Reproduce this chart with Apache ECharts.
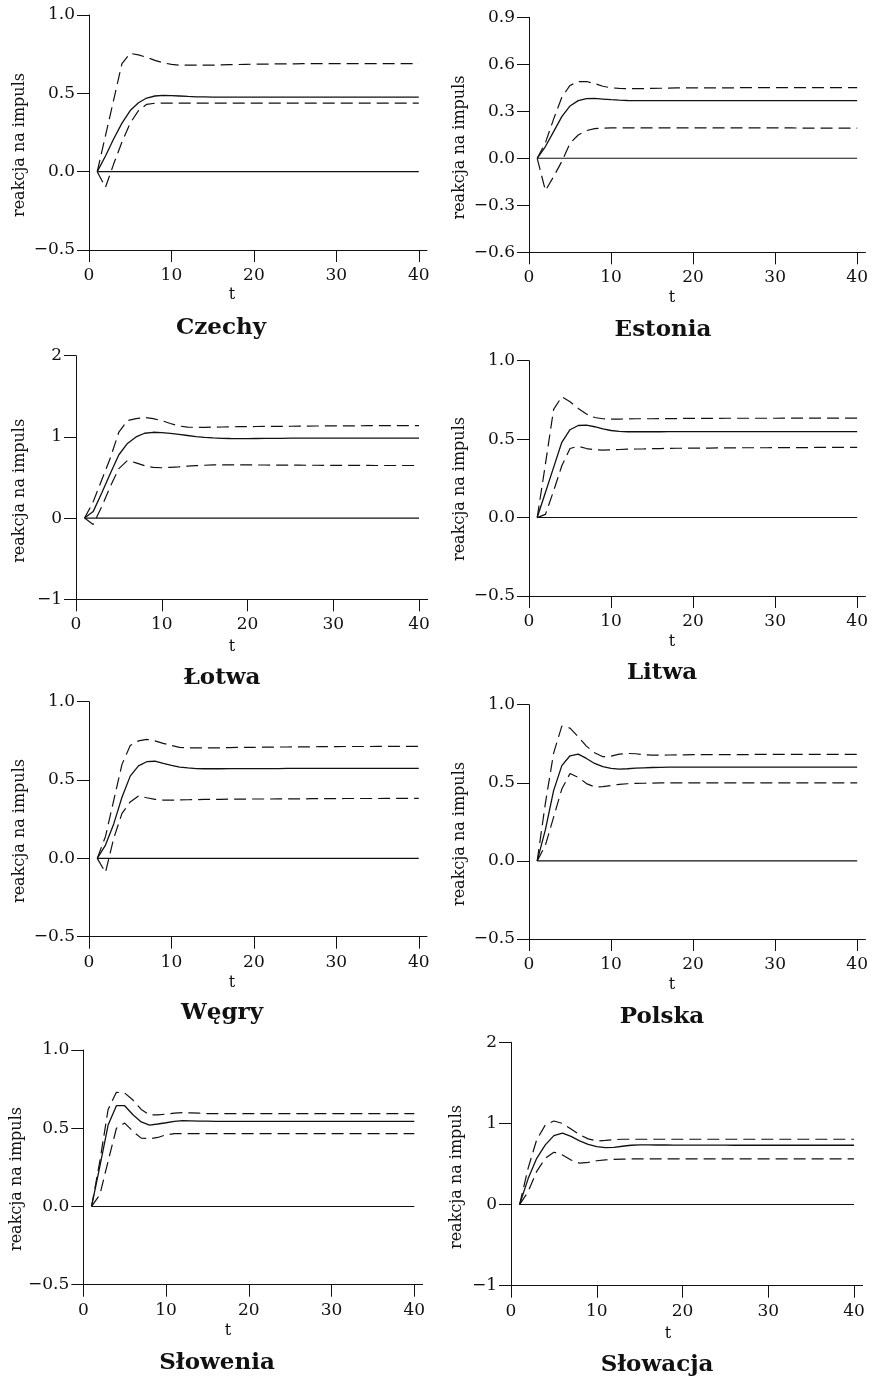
<!DOCTYPE html>
<html>
<head>
<meta charset="utf-8">
<script src="https://cdn.jsdelivr.net/npm/echarts@6/dist/echarts.min.js"></script>
<style>
html,body{margin:0;padding:0;background:#fff;}
#chart{width:871px;height:1385px;}
</style>
</head>
<body>
<div id="chart"></div>
<script>
// ---------- DATA ----------
const t = [1,2,3,4,5,6,7,8,9,10,11,12,13,14,15,16,17,18,19,20,21,22,23,24,25,26,27,28,29,30,31,32,33,34,35,36,37,38,39,40];

const countries = ["Czechy","Estonia","Łotwa","Litwa","Węgry","Polska","Słowenia","Słowacja"];

// Czechy
const czIrf = [0,0.10,0.21,0.31,0.39,0.44,0.47,0.483,0.487,0.486,0.483,0.480,0.478,0.477,0.476,0.476,0.476,0.476,0.476,0.476,0.476,0.476,0.476,0.476,0.476,0.476,0.476,0.476,0.476,0.476,0.476,0.476,0.476,0.476,0.476,0.476,0.476,0.476,0.476,0.476];
const czUp  = [0,0.23,0.46,0.69,0.755,0.745,0.73,0.71,0.695,0.685,0.68,0.68,0.68,0.68,0.68,0.682,0.683,0.684,0.685,0.686,0.687,0.687,0.688,0.688,0.688,0.689,0.689,0.689,0.689,0.689,0.69,0.69,0.69,0.69,0.69,0.69,0.69,0.69,0.69,0.69];
const czLo  = [0,-0.10,0.05,0.19,0.31,0.39,0.43,0.437,0.437,0.437,0.437,0.437,0.437,0.437,0.437,0.437,0.437,0.437,0.437,0.437,0.437,0.437,0.437,0.437,0.437,0.437,0.437,0.437,0.437,0.437,0.437,0.437,0.437,0.437,0.437,0.437,0.437,0.437,0.437,0.437];

// Estonia
const eeIrf = [0,0.075,0.17,0.266,0.334,0.368,0.381,0.382,0.378,0.374,0.371,0.369,0.368,0.368,0.368,0.368,0.368,0.368,0.368,0.368,0.368,0.368,0.368,0.368,0.368,0.368,0.368,0.368,0.368,0.368,0.368,0.368,0.368,0.368,0.368,0.368,0.368,0.368,0.368,0.368];
const eeUp  = [0,0.10,0.25,0.39,0.465,0.49,0.49,0.477,0.46,0.45,0.446,0.445,0.445,0.445,0.446,0.447,0.448,0.449,0.45,0.45,0.45,0.45,0.45,0.45,0.45,0.451,0.451,0.451,0.451,0.451,0.451,0.451,0.451,0.451,0.451,0.451,0.451,0.451,0.451,0.451];
const eeLo  = [0,-0.206,-0.117,-0.02,0.096,0.149,0.177,0.189,0.193,0.194,0.194,0.194,0.194,0.194,0.194,0.194,0.194,0.194,0.194,0.194,0.194,0.194,0.194,0.194,0.194,0.194,0.194,0.194,0.194,0.194,0.194,0.194,0.193,0.193,0.193,0.193,0.193,0.193,0.193,0.193];

// Łotwa
const lvIrf = [0,0.08,0.31,0.55,0.78,0.92,1.00,1.045,1.057,1.053,1.043,1.03,1.017,1.004,0.995,0.988,0.983,0.98,0.979,0.979,0.98,0.981,0.982,0.983,0.984,0.984,0.985,0.985,0.985,0.985,0.985,0.985,0.985,0.985,0.985,0.985,0.985,0.985,0.985,0.985];
const lvUp  = [0,0.2,0.47,0.74,1.06,1.2,1.225,1.24,1.225,1.2,1.165,1.135,1.12,1.118,1.118,1.12,1.122,1.124,1.126,1.127,1.128,1.129,1.13,1.13,1.131,1.132,1.133,1.134,1.135,1.135,1.136,1.137,1.137,1.138,1.138,1.139,1.139,1.14,1.14,1.14];
const lvLo  = [0,-0.08,0.14,0.39,0.61,0.71,0.68,0.645,0.625,0.62,0.625,0.632,0.64,0.646,0.651,0.655,0.656,0.656,0.655,0.655,0.654,0.654,0.653,0.653,0.652,0.652,0.651,0.651,0.65,0.65,0.65,0.649,0.649,0.649,0.648,0.648,0.648,0.648,0.648,0.648];

// Litwa
const ltIrf = [0,0.16,0.32,0.48,0.56,0.587,0.589,0.579,0.566,0.555,0.549,0.547,0.547,0.547,0.547,0.547,0.548,0.548,0.548,0.548,0.548,0.548,0.548,0.548,0.548,0.548,0.548,0.548,0.548,0.548,0.548,0.548,0.548,0.548,0.548,0.548,0.548,0.548,0.548,0.548];
const ltUp  = [0,0.34,0.69,0.77,0.738,0.696,0.66,0.638,0.63,0.628,0.628,0.629,0.63,0.63,0.63,0.631,0.631,0.631,0.632,0.632,0.632,0.632,0.632,0.633,0.633,0.633,0.633,0.633,0.633,0.633,0.634,0.634,0.634,0.634,0.634,0.634,0.634,0.634,0.634,0.634];
const ltLo  = [0,0.02,0.17,0.33,0.44,0.455,0.44,0.432,0.43,0.432,0.434,0.436,0.437,0.438,0.44,0.44,0.441,0.442,0.442,0.443,0.443,0.443,0.444,0.444,0.444,0.445,0.445,0.445,0.445,0.446,0.446,0.446,0.446,0.446,0.447,0.447,0.447,0.447,0.447,0.447];

// Węgry
const huIrf = [0,0.085,0.22,0.39,0.525,0.59,0.617,0.62,0.606,0.594,0.583,0.577,0.573,0.572,0.572,0.572,0.573,0.573,0.573,0.573,0.573,0.573,0.573,0.574,0.574,0.574,0.574,0.574,0.574,0.574,0.574,0.574,0.574,0.574,0.574,0.574,0.574,0.574,0.574,0.574];
const huUp  = [0,0.14,0.37,0.6,0.72,0.75,0.76,0.75,0.734,0.72,0.709,0.705,0.705,0.705,0.705,0.706,0.707,0.708,0.709,0.709,0.71,0.71,0.711,0.711,0.712,0.712,0.712,0.713,0.713,0.713,0.714,0.714,0.714,0.714,0.715,0.715,0.715,0.715,0.715,0.715];
const huLo  = [0,-0.09,0.128,0.287,0.36,0.398,0.387,0.377,0.372,0.372,0.373,0.374,0.375,0.376,0.377,0.377,0.378,0.378,0.378,0.379,0.379,0.379,0.38,0.38,0.38,0.38,0.381,0.381,0.381,0.381,0.382,0.382,0.382,0.382,0.382,0.383,0.383,0.383,0.383,0.383];

// Polska
const plIrf = [0,0.2,0.45,0.61,0.673,0.684,0.656,0.624,0.603,0.592,0.588,0.59,0.594,0.596,0.598,0.599,0.6,0.6,0.6,0.6,0.6,0.6,0.6,0.6,0.6,0.6,0.6,0.6,0.6,0.6,0.6,0.6,0.6,0.6,0.6,0.6,0.6,0.6,0.6,0.6];
const plUp  = [0,0.37,0.69,0.863,0.85,0.795,0.735,0.692,0.667,0.671,0.684,0.688,0.686,0.68,0.677,0.677,0.678,0.679,0.679,0.68,0.68,0.68,0.681,0.681,0.681,0.681,0.681,0.682,0.682,0.682,0.682,0.682,0.682,0.682,0.682,0.682,0.682,0.682,0.682,0.682];
const plLo  = [0,0.1,0.28,0.46,0.56,0.535,0.495,0.474,0.475,0.483,0.49,0.494,0.496,0.497,0.498,0.499,0.5,0.5,0.5,0.5,0.5,0.5,0.5,0.5,0.5,0.5,0.5,0.5,0.5,0.5,0.5,0.5,0.5,0.5,0.5,0.5,0.5,0.5,0.5,0.5];

// Słowenia
const siIrf = [0,0.256,0.52,0.644,0.644,0.586,0.54,0.52,0.527,0.535,0.544,0.548,0.547,0.546,0.545,0.544,0.544,0.544,0.544,0.544,0.544,0.544,0.544,0.544,0.544,0.544,0.544,0.544,0.544,0.544,0.544,0.544,0.544,0.544,0.544,0.544,0.544,0.544,0.544,0.544];
const siUp  = [0,0.29,0.62,0.73,0.725,0.68,0.62,0.586,0.586,0.59,0.597,0.6,0.598,0.596,0.594,0.593,0.593,0.593,0.593,0.593,0.593,0.593,0.593,0.593,0.593,0.593,0.593,0.593,0.593,0.593,0.593,0.593,0.593,0.593,0.593,0.593,0.593,0.593,0.593,0.593];
const siLo  = [0,0.075,0.29,0.5,0.533,0.48,0.437,0.433,0.441,0.458,0.465,0.466,0.466,0.466,0.465,0.465,0.465,0.465,0.465,0.465,0.465,0.465,0.465,0.465,0.465,0.465,0.465,0.465,0.465,0.465,0.465,0.465,0.465,0.465,0.465,0.465,0.465,0.465,0.465,0.465];

// Słowacja
const skIrf = [0,0.32,0.57,0.735,0.85,0.88,0.84,0.785,0.743,0.715,0.702,0.706,0.719,0.731,0.735,0.735,0.734,0.734,0.733,0.733,0.733,0.732,0.732,0.732,0.732,0.731,0.731,0.731,0.731,0.731,0.731,0.731,0.731,0.731,0.731,0.731,0.731,0.731,0.731,0.731];
const skUp  = [0,0.45,0.8,0.98,1.03,1.0,0.93,0.86,0.81,0.784,0.79,0.8,0.805,0.805,0.805,0.805,0.805,0.805,0.805,0.805,0.805,0.805,0.805,0.805,0.805,0.805,0.805,0.805,0.805,0.805,0.805,0.805,0.805,0.805,0.805,0.805,0.805,0.805,0.805,0.805];
const skLo  = [0,0.16,0.41,0.57,0.645,0.612,0.55,0.51,0.52,0.54,0.55,0.558,0.56,0.562,0.563,0.563,0.563,0.563,0.563,0.563,0.563,0.563,0.563,0.563,0.563,0.563,0.563,0.563,0.563,0.563,0.563,0.563,0.563,0.563,0.563,0.563,0.563,0.563,0.563,0.563];

const irfData = [czIrf, eeIrf, lvIrf, ltIrf, huIrf, plIrf, siIrf, skIrf];
const upData  = [czUp, eeUp, lvUp, ltUp, huUp, plUp, siUp, skUp];
const loData  = [czLo, eeLo, lvLo, ltLo, huLo, plLo, siLo, skLo];

// y-axis ranges (min, max, interval, decimals)
const yMin = [-0.5, -0.6, -1, -0.5, -0.5, -0.5, -0.5, -1];
const yMax = [1.0, 0.9, 2, 1.0, 1.0, 1.0, 1.0, 2];
const yStep = [0.5, 0.3, 1, 0.5, 0.5, 0.5, 0.5, 1];
const yDec = [1, 1, 0, 1, 1, 1, 1, 0];
const xTicks = [0, 10, 20, 30, 40];
const yName = "reakcja na impuls";
const xName = "t";

// ---------- LAYOUT ----------
const grids = [
  {left: 89, top: 15, width: 338, height: 235},
  {left: 529, top: 17.3, width: 338, height: 235},
  {left: 76, top: 355.7, width: 351.6, height: 243.6},
  {left: 529, top: 360.7, width: 338, height: 235.3},
  {left: 89, top: 701.7, width: 338, height: 235},
  {left: 529, top: 704.7, width: 338, height: 234.3},
  {left: 83.3, top: 1050, width: 339.3, height: 234.7},
  {left: 511, top: 1042.3, width: 351.6, height: 243.4}
];
const yLabelPos = [[20,145],[460,147.5],[20,490.8],[460,489],[20,831],[460,834],[17,1179],[457,1177]];
const tLabelPos = [[232,295],[672,298],[232,647],[672,642],[232,983],[672,985],[228,1331],[668,1334]];
const titlePos  = [[221,328],[663,330],[222,678],[662,673],[222,1013],[662,1017],[217,1363],[657,1365]];

const FONT = "'DejaVu Serif', serif";
const INK = '#111';

const fmtY = (dec) => (v) => {
  const a = Math.abs(v).toFixed(dec);
  return (v < -1e-9 ? '\u2212' : '') + a;
};

const xAxes = [], yAxes = [], series = [], graphics = [];
for (let i = 0; i < 8; i++) {
  xAxes.push({
    gridIndex: i, type: 'value', min: 0, max: 41, interval: 10,
    axisLine: {show: true, onZero: false, lineStyle: {color: INK, width: 1}},
    axisTick: {show: true, length: 12, inside: false, customValues: xTicks, lineStyle: {color: INK, width: 1}},
    axisLabel: {customValues: xTicks, margin: 17, fontFamily: FONT, fontSize: 17, color: INK},
    splitLine: {show: false}
  });
  yAxes.push({
    gridIndex: i, type: 'value', min: yMin[i], max: yMax[i], interval: yStep[i],
    axisLine: {show: true, onZero: false, lineStyle: {color: INK, width: 1}},
    axisTick: {show: true, length: 12, inside: false, lineStyle: {color: INK, width: 1}},
    axisLabel: {margin: 14, fontFamily: FONT, fontSize: 17, color: INK, formatter: fmtY(yDec[i])},
    splitLine: {show: false}
  });
  const pts = (arr) => t.map((tv, k) => [tv, arr[k]]);
  const base = {type: 'line', xAxisIndex: i, yAxisIndex: i, symbol: 'none', silent: true, animation: false};
  series.push(Object.assign({}, base, {data: [[t[0], 0], [t[t.length - 1], 0]], lineStyle: {color: INK, width: 1.1}}));
  series.push(Object.assign({}, base, {data: pts(upData[i]), lineStyle: {color: INK, width: 1.2, type: [12, 6]}}));
  series.push(Object.assign({}, base, {data: pts(loData[i]), lineStyle: {color: INK, width: 1.2, type: [12, 6]}}));
  series.push(Object.assign({}, base, {data: pts(irfData[i]), lineStyle: {color: INK, width: 1.3}}));

  graphics.push({type: 'text', x: yLabelPos[i][0], y: yLabelPos[i][1], rotation: Math.PI / 2,
    style: {text: yName, font: "16px " + FONT, fill: INK, align: 'center', verticalAlign: 'middle', textAlign: 'center', textVerticalAlign: 'middle'}});
  graphics.push({type: 'text', x: tLabelPos[i][0], y: tLabelPos[i][1],
    style: {text: xName, font: "16px " + FONT, fill: INK, align: 'center', verticalAlign: 'middle', textAlign: 'center', textVerticalAlign: 'middle'}});
  graphics.push({type: 'text', x: titlePos[i][0], y: titlePos[i][1],
    style: {text: countries[i], font: "bold 23px " + FONT, fill: INK, align: 'center', verticalAlign: 'middle', textAlign: 'center', textVerticalAlign: 'middle'}});
}

const chart = echarts.init(document.getElementById('chart'), null, {renderer: 'canvas'});
chart.setOption({
  backgroundColor: '#fff',
  animation: false,
  grid: grids,
  xAxis: xAxes,
  yAxis: yAxes,
  series: series,
  graphic: graphics
});
</script>
</body>
</html>
